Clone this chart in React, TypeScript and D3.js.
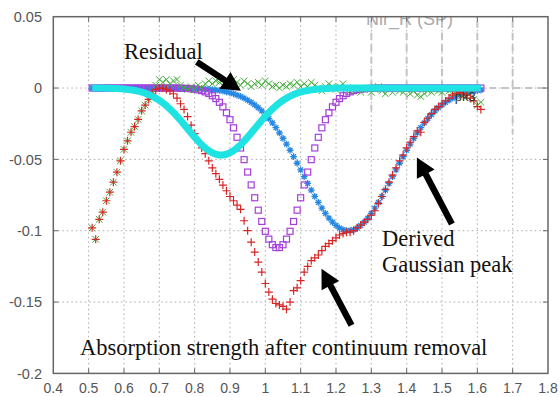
import React, { useEffect, useRef } from 'react';
import * as d3 from 'd3';

// wavelength grid (um), shared by all series
const wavelength = [
  0.51, 0.52, 0.53, 0.54, 0.55, 0.56, 0.57, 0.58, 0.59, 0.60,
  0.61, 0.62, 0.63, 0.64, 0.65, 0.66, 0.67, 0.68, 0.69, 0.70,
  0.71, 0.72, 0.73, 0.74, 0.75, 0.76, 0.77, 0.78, 0.79, 0.80,
  0.81, 0.82, 0.83, 0.84, 0.85, 0.86, 0.87, 0.88, 0.89, 0.90,
  0.91, 0.92, 0.93, 0.94, 0.95, 0.96, 0.97, 0.98, 0.99, 1.00,
  1.01, 1.02, 1.03, 1.04, 1.05, 1.06, 1.07, 1.08, 1.09, 1.10,
  1.11, 1.12, 1.13, 1.14, 1.15, 1.16, 1.17, 1.18, 1.19, 1.20,
  1.21, 1.22, 1.23, 1.24, 1.25, 1.26, 1.27, 1.28, 1.29, 1.30,
  1.31, 1.32, 1.33, 1.34, 1.35, 1.36, 1.37, 1.38, 1.39, 1.40,
  1.41, 1.42, 1.43, 1.44, 1.45, 1.46, 1.47, 1.48, 1.49, 1.50,
  1.51, 1.52, 1.53, 1.54, 1.55, 1.56, 1.57, 1.58, 1.59, 1.60,
  1.61,
];

// absorption strength after continuum removal (red +)
const absorption = [
  -0.098, -0.106, -0.092, -0.087, -0.079, -0.073, -0.066, -0.059, -0.051, -0.043,
  -0.037, -0.031, -0.027, -0.022, -0.016, -0.012, -0.008, -0.004, -0.001, 0.000,
  0.000, -0.001, -0.002, -0.004, -0.007, -0.011, -0.015, -0.020, -0.026, -0.032,
  -0.037, -0.042, -0.046, -0.051, -0.056, -0.060, -0.064, -0.068, -0.072, -0.076,
  -0.079, -0.082, -0.085, -0.093, -0.100, -0.108, -0.115, -0.122, -0.129, -0.137,
  -0.143, -0.148, -0.151, -0.152, -0.153, -0.155, -0.150, -0.142, -0.140, -0.135,
  -0.129, -0.125, -0.121, -0.119, -0.117, -0.114, -0.111, -0.109, -0.107, -0.105,
  -0.103, -0.102, -0.101, -0.101, -0.100, -0.098, -0.096, -0.094, -0.092, -0.089,
  -0.086, -0.081, -0.076, -0.071, -0.066, -0.061, -0.056, -0.051, -0.047, -0.042,
  -0.038, -0.034, -0.030, -0.031, -0.024, -0.021, -0.018, -0.015, -0.013, -0.011,
  -0.009, -0.007, -0.005, -0.004, -0.003, -0.004, -0.005, -0.007, -0.009, -0.013,
  -0.015,
];

// residual (green x)
const residual = [
  -0.098, -0.106, -0.092, -0.087, -0.079, -0.073, -0.066, -0.059, -0.051, -0.043,
  -0.037, -0.031, -0.027, -0.022, -0.016, -0.012, -0.008, -0.004, 0.002, 0.006,
  0.004, 0.006, 0.003, 0.005, 0.006, 0.002, 0.000, -0.001, 0.001, -0.001,
  0.002, 0.000, 0.003, 0.005, 0.003, 0.005, 0.004, 0.002, 0.005, 0.003,
  0.006, 0.004, 0.002, 0.005, 0.003, 0.001, 0.003, 0.004, 0.002, 0.005,
  0.003, 0.001, 0.002, 0.000, 0.002, 0.001, 0.003, 0.002, 0.004, 0.001,
  0.003, 0.001, 0.004, 0.002, 0.000, -0.002, 0.001, 0.003, 0.001, -0.001,
  0.001, 0.003, 0.000, -0.002, 0.000, -0.001, -0.003, -0.001, 0.000, -0.003,
  -0.001, 0.001, -0.002, -0.004, -0.001, -0.003, 0.000, -0.002, -0.003, -0.001,
  -0.004, -0.002, -0.005, -0.006, -0.004, -0.002, -0.003, -0.001, -0.002, -0.003,
  -0.001, -0.002, -0.003, -0.002, -0.004, -0.003, -0.006, -0.004, -0.008, -0.012,
  -0.010,
];

// fitted peaks
const peak1 = [ // cyan, ~0.88
  0, 0, 0, 0, -0.0001, -0.0002, -0.0003, -0.0004, -0.0005, -0.0007,
  -0.0010, -0.0013, -0.0017, -0.0022, -0.0028, -0.0036, -0.0046, -0.0057, -0.0071, -0.0086,
  -0.0104, -0.0124, -0.0147, -0.0171, -0.0198, -0.0226, -0.0255, -0.0285, -0.0315, -0.0344,
  -0.0372, -0.0398, -0.0420, -0.0439, -0.0454, -0.0464, -0.0469, -0.0469, -0.0464, -0.0454,
  -0.0439, -0.0420, -0.0398, -0.0372, -0.0344, -0.0315, -0.0285, -0.0255, -0.0226, -0.0198,
  -0.0171, -0.0147, -0.0124, -0.0104, -0.0086, -0.0071, -0.0057, -0.0046, -0.0036, -0.0028,
  -0.0022, -0.0017, -0.0013, -0.0010, -0.0007, -0.0005, -0.0004, -0.0003, -0.0002, -0.0001,
  0, 0, 0, 0, 0, 0, 0, 0, 0, 0,
  0, 0, 0, 0, 0, 0, 0, 0, 0, 0,
  0, 0, 0, 0, 0, 0, 0, 0, 0, 0,
  0, 0, 0, 0, 0, 0, 0, 0, 0, 0,
  0,
];

const peak2 = [ // purple squares, ~1.03
  0, 0, 0, 0, 0, 0, 0, 0, 0, 0,
  0, 0, 0, 0, 0, 0, 0, 0, 0, 0,
  0, 0, 0, 0, 0, -0.0001, -0.0002, -0.0003, -0.0005, -0.0008,
  -0.0012, -0.0018, -0.0027, -0.0038, -0.0054, -0.0074, -0.0100, -0.0132, -0.0173, -0.0222,
  -0.0279, -0.0345, -0.0420, -0.0502, -0.0589, -0.0679, -0.0769, -0.0856, -0.0935, -0.1004,
  -0.1059, -0.1098, -0.1118, -0.1118, -0.1098, -0.1059, -0.1004, -0.0935, -0.0856, -0.0769,
  -0.0679, -0.0589, -0.0502, -0.0420, -0.0345, -0.0279, -0.0222, -0.0173, -0.0132, -0.0100,
  -0.0074, -0.0054, -0.0038, -0.0027, -0.0018, -0.0012, -0.0008, -0.0005, -0.0003, -0.0002,
  -0.0001, 0, 0, 0, 0, 0, 0, 0, 0, 0,
  0, 0, 0, 0, 0, 0, 0, 0, 0, 0,
  0, 0, 0, 0, 0, 0, 0, 0, 0, 0,
  0,
];

const peak3 = [ // blue asterisks, ~1.24
  0, 0, 0, 0, 0, 0, 0, 0, 0, 0,
  0, 0, 0, 0, 0, 0, 0, 0, 0, 0,
  0, 0, 0, 0, 0, 0, -0.0001, -0.0002, -0.0002, -0.0003,
  -0.0004, -0.0005, -0.0007, -0.0009, -0.0011, -0.0014, -0.0017, -0.0021, -0.0027, -0.0033,
  -0.0040, -0.0049, -0.0059, -0.0070, -0.0084, -0.0100, -0.0118, -0.0138, -0.0160, -0.0186,
  -0.0214, -0.0244, -0.0278, -0.0314, -0.0352, -0.0393, -0.0436, -0.0481, -0.0527, -0.0574,
  -0.0621, -0.0668, -0.0715, -0.0759, -0.0802, -0.0842, -0.0879, -0.0912, -0.0940, -0.0963,
  -0.0981, -0.0993, -0.0999, -0.0999, -0.0993, -0.0981, -0.0963, -0.0940, -0.0912, -0.0879,
  -0.0842, -0.0802, -0.0759, -0.0715, -0.0668, -0.0621, -0.0574, -0.0527, -0.0481, -0.0436,
  -0.0393, -0.0352, -0.0314, -0.0278, -0.0244, -0.0214, -0.0186, -0.0160, -0.0138, -0.0118,
  -0.0100, -0.0084, -0.0070, -0.0059, -0.0049, -0.0040, -0.0033, -0.0027, -0.0021, -0.0017,
  -0.0014,
];

const xTicks = [0.4, 0.5, 0.6, 0.7, 0.8, 0.9, 1, 1.1, 1.2, 1.3, 1.4, 1.5, 1.6, 1.7, 1.8];
const yTicks = [0.05, 0, -0.05, -0.1, -0.15, -0.2];

// annotation anchors in data units: [tailX, tailY, tipX, tipY]
const arrows: [number, number, number, number][] = [
  [0.806, 0.0183, 0.931, -0.0019],   // Residual
  [1.528, -0.0953, 1.429, -0.0486],  // Derived Gaussian peak
  [1.244, -0.1662, 1.159, -0.1267],  // Absorption strength
];

const App: React.FC = () => {
  const svgRef = useRef<SVGSVGElement>(null);

  useEffect(() => {
    if (!svgRef.current) return;
    const svg = d3.select(svgRef.current);
    svg.selectAll('*').remove();

    const x = d3.scaleLinear().domain([0.4, 1.8]).range([53.3, 548]);
    const y = d3.scaleLinear().domain([-0.2, 0.05]).range([373.4, 16.7]);
    const [x0, x1] = x.range();
    const [y0, y1] = y.range();

    svg.append('rect').attr('width', 560).attr('height', 397).attr('fill', '#fff');

    svg.append('clipPath').attr('id', 'plot-clip')
      .append('rect').attr('x', x0).attr('y', y1).attr('width', x1 - x0).attr('height', y0 - y1);

    // dotted grid
    const grid = svg.append('g').attr('stroke', '#aaa').attr('stroke-width', 1).attr('stroke-dasharray', '1.5,3');
    xTicks.slice(1, -1).forEach(t => {
      grid.append('line').attr('x1', x(t)).attr('x2', x(t)).attr('y1', y0).attr('y2', y1);
    });
    yTicks.slice(1, -1).forEach(t => {
      grid.append('line').attr('x1', x0).attr('x2', x1).attr('y1', y(t)).attr('y2', y(t));
    });

    const plot = svg.append('g').attr('clip-path', 'url(#plot-clip)');

    // faint leftover legend box
    const ghost = plot.append('g').attr('stroke', '#c4c4c4').attr('stroke-width', 2).attr('stroke-dasharray', '7,5').attr('fill', 'none');
    [[1.3, -0.016], [1.4, -0.009], [1.5, -0.011], [1.6, 0], [1.7, -0.032]].forEach(([t, b]) => {
      ghost.append('line').attr('x1', x(t)).attr('x2', x(t)).attr('y1', y1 + 4).attr('y2', y(b));
    });
    ghost.append('line').attr('x1', x(1.6)).attr('x2', x1).attr('y1', y(0)).attr('y2', y(0));
    plot.append('text').attr('x', 366).attr('y', 25).attr('fill', '#aaa')
      .attr('font-family', 'Liberation Sans, Arial, sans-serif').attr('font-size', 18)
      .text('Nir_R (SP)');

    const pts = (vals: number[]) => wavelength.map((w, i) => [x(w), y(vals[i])] as [number, number])
      .filter((_, i) => vals[i] !== undefined);

    // blue asterisks
    const r3 = 3.4, d3r = r3 * 0.71;
    plot.append('g').selectAll('path').data(pts(peak3)).join('path')
      .attr('transform', d => `translate(${d[0]},${d[1]})`)
      .attr('d', `M${-r3},0L${r3},0M0,${-r3}L0,${r3}M${-d3r},${-d3r}L${d3r},${d3r}M${-d3r},${d3r}L${d3r},${-d3r}`)
      .attr('stroke', '#2688e4').attr('stroke-width', 1.3).attr('fill', 'none');

    // purple squares
    plot.append('g').selectAll('rect').data(pts(peak2)).join('rect')
      .attr('x', d => d[0] - 3).attr('y', d => d[1] - 3).attr('width', 6).attr('height', 6)
      .attr('fill', 'none').attr('stroke', '#a53fdc').attr('stroke-width', 1.2);

    // green x residual
    const rg = 3.3;
    plot.append('g').selectAll('path').data(pts(residual)).join('path')
      .attr('transform', d => `translate(${d[0]},${d[1]})`)
      .attr('d', `M${-rg},${-rg}L${rg},${rg}M${-rg},${rg}L${rg},${-rg}`)
      .attr('stroke', '#43ad3a').attr('stroke-width', 1).attr('fill', 'none');

    // red + absorption
    const rr = 4;
    plot.append('g').selectAll('path').data(pts(absorption)).join('path')
      .attr('transform', d => `translate(${d[0]},${d[1]})`)
      .attr('d', `M${-rr},0L${rr},0M0,${-rr}L0,${rr}`)
      .attr('stroke', '#d92424').attr('stroke-width', 1.2).attr('fill', 'none');

    // cyan peak as thick line
    plot.append('path').datum(pts(peak1))
      .attr('d', d3.line())
      .attr('fill', 'none').attr('stroke', '#1fe3e3').attr('stroke-width', 7)
      .attr('stroke-linejoin', 'round');

    plot.append('text').attr('x', x(1.536)).attr('y', y(-0.0089)).attr('fill', '#333')
      .attr('font-family', 'Liberation Sans, Arial, sans-serif').attr('font-size', 13)
      .text('pk3');

    // frame and ticks
    const axisColor = '#666';
    svg.append('rect').attr('x', x0).attr('y', y1).attr('width', x1 - x0).attr('height', y0 - y1)
      .attr('fill', 'none').attr('stroke', axisColor).attr('stroke-width', 1.5);
    const ticks = svg.append('g').attr('stroke', axisColor).attr('stroke-width', 1);
    xTicks.slice(1, -1).forEach(t => {
      ticks.append('line').attr('x1', x(t)).attr('x2', x(t)).attr('y1', y0).attr('y2', y0 - 5);
      ticks.append('line').attr('x1', x(t)).attr('x2', x(t)).attr('y1', y1).attr('y2', y1 + 5);
    });
    yTicks.slice(1, -1).forEach(t => {
      ticks.append('line').attr('x1', x0).attr('x2', x0 + 5).attr('y1', y(t)).attr('y2', y(t));
      ticks.append('line').attr('x1', x1).attr('x2', x1 - 5).attr('y1', y(t)).attr('y2', y(t));
    });

    const labelFont = 'Liberation Sans, Arial, sans-serif';
    svg.append('g').selectAll('text').data(xTicks).join('text')
      .attr('x', d => x(d)).attr('y', 393).attr('text-anchor', 'middle')
      .attr('font-family', labelFont).attr('font-size', 14).attr('fill', '#555')
      .text(d => String(d));
    svg.append('g').selectAll('text').data(yTicks).join('text')
      .attr('x', 42).attr('y', d => y(d)).attr('dy', '0.36em').attr('text-anchor', 'end')
      .attr('font-family', labelFont).attr('font-size', 14.5).attr('fill', '#555')
      .text(d => String(d));

    // arrows
    const arrowG = svg.append('g').attr('fill', '#000');
    arrows.forEach(([ax, ay, bx, by]) => {
      const sx = x(ax), sy = y(ay), tx = x(bx), ty = y(by);
      const ang = Math.atan2(ty - sy, tx - sx);
      const hl = 19, hw = 10, sw = 3.2;
      const bxp = tx - hl * Math.cos(ang), byp = ty - hl * Math.sin(ang);
      const nx = -Math.sin(ang), ny = Math.cos(ang);
      arrowG.append('path').attr('d',
        `M${sx + nx * sw},${sy + ny * sw}L${bxp + nx * sw},${byp + ny * sw}L${bxp + nx * hw},${byp + ny * hw}` +
        `L${tx},${ty}L${bxp - nx * hw},${byp - ny * hw}L${bxp - nx * sw},${byp - ny * sw}L${sx - nx * sw},${sy - ny * sw}Z`);
    });

    // annotations
    const serif = 'Liberation Serif, Times New Roman, serif';
    const note = (tx: number, ty: number, s: string) =>
      svg.append('text').attr('x', x(tx)).attr('y', y(ty)).attr('font-family', serif)
        .attr('font-size', 22.5).attr('fill', '#111').text(s);
    note(0.60, 0.0204, 'Residual');
    note(1.33, -0.1105, 'Derived');
    note(1.33, -0.1286, 'Gaussian peak');
    note(0.4755, -0.187, 'Absorption strength after continuum removal');
  }, []);

  return (
    <svg ref={svgRef} width={560} height={397} viewBox="0 0 560 397"
      style={{ position: 'absolute', left: 0, top: 0 }} />
  );
};

export default App;
